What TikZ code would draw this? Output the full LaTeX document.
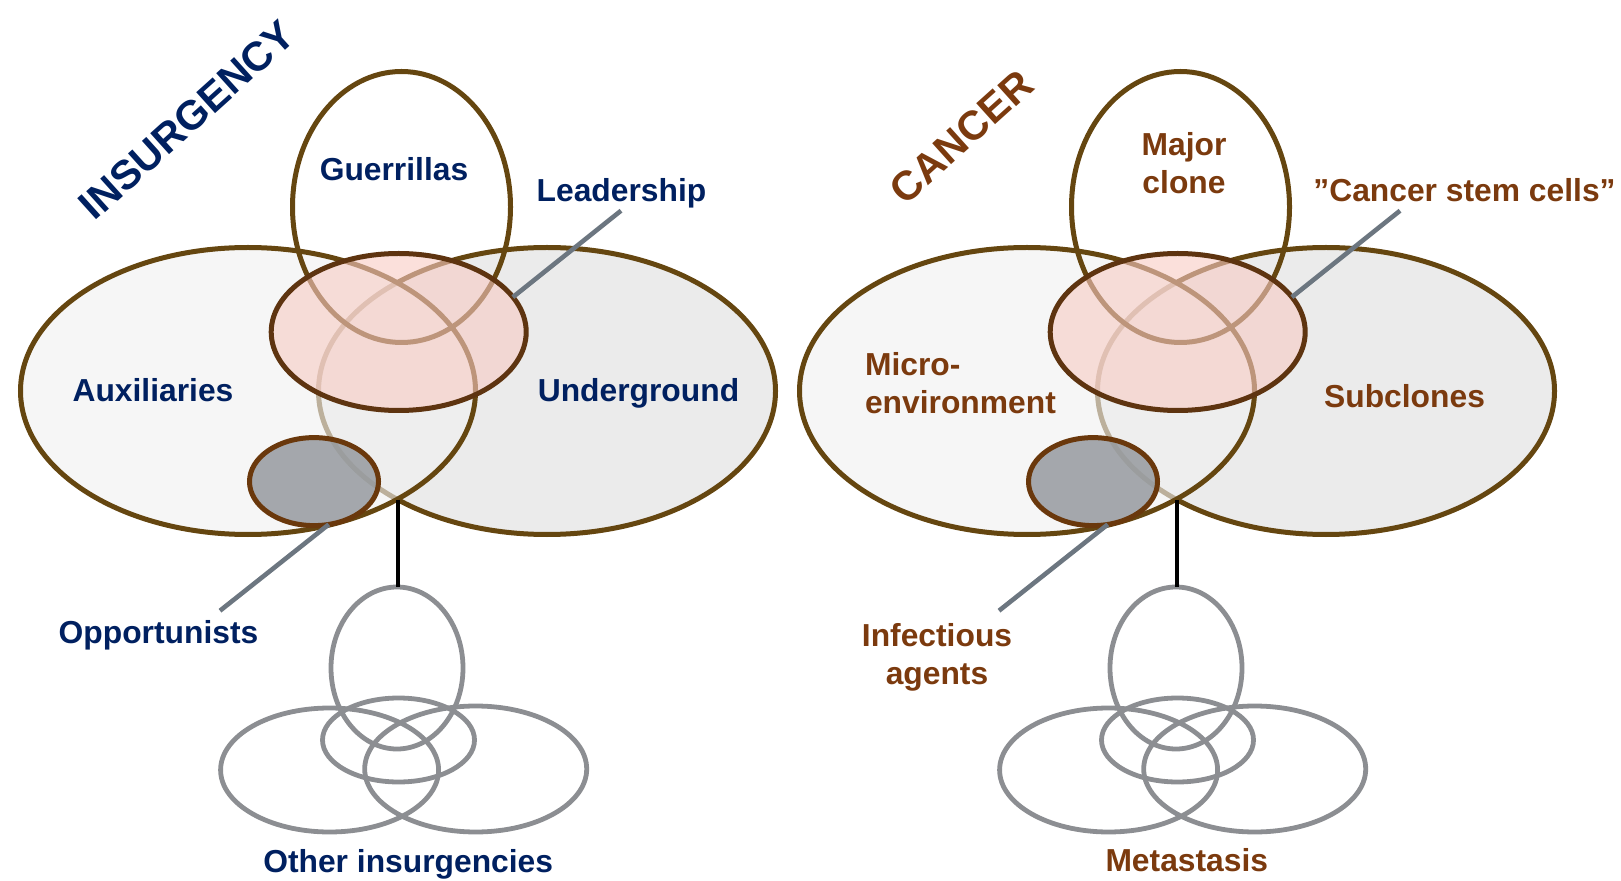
\documentclass[tikz,border=0pt]{standalone}
\usepackage{fontspec}
\setmainfont{Liberation Sans}
\usetikzlibrary{shapes.geometric}
\definecolor{navy}{HTML}{002060}
\definecolor{rust}{HTML}{7B3A0E}
\definecolor{olivebrown}{HTML}{654610}
\definecolor{darkbrown}{HTML}{5E3410}
\definecolor{oppbrown}{HTML}{6A380C}
\definecolor{pinkfill}{HTML}{F8CBC3}
\definecolor{lgray}{HTML}{EBEBEB}
\definecolor{auxgray}{HTML}{F1F1F1}
\definecolor{oppgray}{HTML}{969A9F}
\definecolor{leadergray}{HTML}{6C7680}
\definecolor{ringgray}{HTML}{8C8E92}
\begin{document}
\begin{tikzpicture}[x=0.5pt,y=-0.5pt,
  setshape/.style={ellipse, draw=olivebrown, line width=2.5pt, inner sep=0pt, outer sep=0pt},
  bigL/.style={setshape, fill=auxgray, fill opacity=0.625, minimum width=227.5pt, minimum height=143.5pt},
  bigR/.style={setshape, fill=lgray, minimum width=228.5pt, minimum height=143.5pt},
  topset/.style={setshape, minimum width=109pt, minimum height=135.5pt},
  core/.style={setshape, draw=darkbrown, fill=pinkfill, fill opacity=0.6, minimum width=127.5pt, minimum height=78.5pt},
  smallset/.style={setshape, draw=oppbrown, fill=oppgray, fill opacity=0.85, minimum width=64.5pt, minimum height=44pt},
  ring/.style={ellipse, draw=ringgray, line width=2.4pt, inner sep=0pt, outer sep=0pt},
  leader/.style={draw=leadergray, line width=2.3pt},
  link/.style={draw=black, line width=2.2pt},
  lab/.style={font=\fontsize{15.9}{19}\selectfont\bfseries, inner sep=0pt, outer sep=0pt},
  title/.style={font=\fontsize{20.5}{24}\selectfont\bfseries, inner sep=0pt, rotate=42},
  navytext/.style={text=navy},
  rusttext/.style={text=rust}
]
\useasboundingbox (0,0) rectangle (1621,881);

% ---------------- Left: INSURGENCY ----------------
\node[bigR] (ug) at (547,391) {};
\node[bigL] (aux) at (248,391) {};
\node[topset] (gue) at (401.5,207) {};
\node[core] (lead) at (398.7,332) {};
\node[smallset] (opp) at (314,481.6) {};

\node[ring, minimum width=66pt, minimum height=81pt] (otall) at (397,668) {};
\node[ring, minimum width=76pt, minimum height=42pt] (omid) at (398.5,740) {};
\node[ring, minimum width=109pt, minimum height=62pt] (oleft) at (329.6,770) {};
\node[ring, minimum width=111pt, minimum height=63pt] (oright) at (475.7,769) {};

\coordinate (jL) at (398,500);
\draw[link] (jL) -- (jL |- otall.north);
\coordinate (leadfree) at (621,210.7);
\draw[leader] (lead.17) -- (leadfree);
\coordinate (oppfree) at (220,610.7);
\draw[leader] (opp.-71) -- (oppfree);

\node[title, navytext] (tins) at (187,120) {INSURGENCY};
\node[lab, navytext, anchor=base] (tgue) at (394,181) {Guerrillas};
\node[lab, navytext, anchor=base] (tlead) at (621.5,202) {Leadership};
\node[lab, navytext, anchor=base] (taux) at (153,401.5) {Auxiliaries};
\node[lab, navytext, anchor=base] (tug) at (638.5,401.5) {Underground};
\node[lab, navytext, anchor=base] (topp) at (158.5,643.3) {Opportunists};
\node[lab, navytext, anchor=base] (toth) at (408.2,872.7) {Other insurgencies};

% ---------------- Right: CANCER ----------------
\node[bigR] (sub) at (1326,391) {};
\node[bigL] (mic) at (1027,391) {};
\node[topset] (maj) at (1180.5,207) {};
\node[core] (csc) at (1177.7,332) {};
\node[smallset] (inf) at (1093,481.6) {};

\node[ring, minimum width=66pt, minimum height=81pt] (mtall) at (1176,668) {};
\node[ring, minimum width=76pt, minimum height=42pt] (mmid) at (1177.5,740) {};
\node[ring, minimum width=109pt, minimum height=62pt] (mleft) at (1108.6,770) {};
\node[ring, minimum width=111pt, minimum height=63pt] (mright) at (1254.7,769) {};

\coordinate (jR) at (1177,500);
\draw[link] (jR) -- (jR |- mtall.north);
\coordinate (cscfree) at (1400,210.7);
\draw[leader] (csc.17) -- (cscfree);
\coordinate (inffree) at (999,610.7);
\draw[leader] (inf.-71) -- (inffree);

\node[title, rusttext] (tcan) at (961.7,137) {CANCER};
\node[lab, rusttext, align=center] (tmaj) at (1184,163) {Major\\clone};
\node[lab, rusttext, anchor=base] (tcsc) at (1464.5,201.7) {”Cancer stem cells”};
\node[lab, rusttext, align=left, anchor=west] (tmic) at (865,383.5) {Micro-\\environment};
\node[lab, rusttext, anchor=base] (tsub) at (1404.5,407.5) {Subclones};
\node[lab, rusttext, align=center] (tinf) at (937,657) {Infectious\\agents};
\node[lab, rusttext, anchor=base] (tmet) at (1186.8,871.7) {Metastasis};
\end{tikzpicture}
\end{document}
